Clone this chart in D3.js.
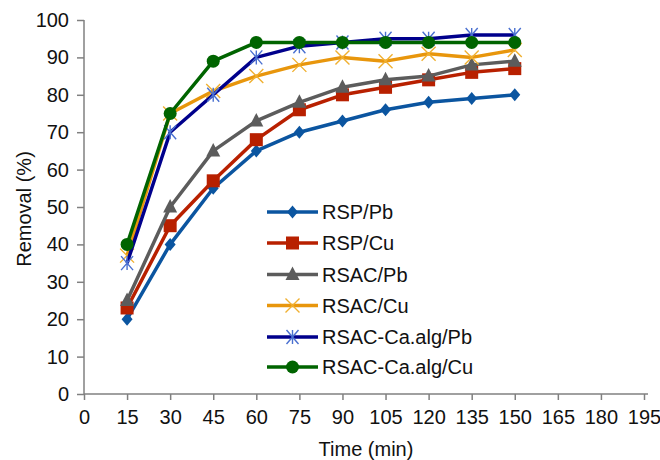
<!DOCTYPE html>
<html><head><meta charset="utf-8">
<script src="https://cdn.jsdelivr.net/npm/d3@7"></script>
<style>body{margin:0;background:#fff}svg{display:block}text{font-family:"Liberation Sans",Arial,sans-serif;fill:#111}</style>
</head><body><svg id="c" width="660" height="460"></svg>
<script>
const times = [15,30,45,60,75,90,105,120,135,150];
const xTicks = [0,15,30,45,60,75,90,105,120,135,150,165,180,195];
const yTicks = [0,10,20,30,40,50,60,70,80,90,100];
const seriesNames = ["RSP/Pb","RSP/Cu","RSAC/Pb","RSAC/Cu","RSAC-Ca.alg/Pb","RSAC-Ca.alg/Cu"];
const rspPb = [20,40,55,65,70,73,76,78,79,80];
const rspCu = [23,45,57,68,76,80,82,84,86,87];
const rsacPb = [25,50,65,73,78,82,84,85,88,89];
const rsacCu = [37,75,81,85,88,90,89,91,90,92];
const rsacCaPb = [35,70,80,90,93,94,95,95,96,96];
const rsacCaCu = [40,75,89,94,94,94,94,94,94,94];
const seriesValues = [rspPb,rspCu,rsacPb,rsacCu,rsacCaPb,rsacCaCu];
const lineColors = ["#0b55a0","#b82000","#5c5c5c","#e8960c","#00008c","#006400"];
const markerColors = ["#0b55a0","#b82000","#5c5c5c","#f0b030","#4a70d0","#006400"];
const markerTypes = ["diamond","square","triangle","x","asterisk","circle"];

const svg = d3.select("#c");
const m = {l:84, r:644, t:20, b:394};
const x = d3.scaleLinear().domain([0,195]).range([m.l,m.r]);
const y = d3.scaleLinear().domain([0,100]).range([m.b,m.t]);

const xa = svg.append("g").attr("transform",`translate(0,${m.b})`)
  .call(d3.axisBottom(x).tickValues(xTicks).tickSize(6).tickPadding(10).tickSizeOuter(0));
const ya = svg.append("g").attr("transform",`translate(${m.l},0)`)
  .call(d3.axisLeft(y).tickValues(yTicks).tickSize(7).tickPadding(8).tickSizeOuter(0));
[xa,ya].forEach(a=>{
  a.selectAll("path,line").attr("stroke","#808080").attr("stroke-width",1.5);
  a.selectAll("text").attr("font-size",20).attr("fill","#111").style("font-family","Liberation Sans, Arial, sans-serif");
});
xa.select(".domain").attr("d",`M${m.l},0H${m.r+4}`);
ya.select(".domain").attr("d",`M0,${m.b}V${m.t}`);

svg.append("text").attr("x",366).attr("y",456).attr("text-anchor","middle").attr("font-size",20).text("Time (min)");
svg.append("text").attr("transform","translate(31,209) rotate(-90)").attr("text-anchor","middle").attr("font-size",20).text("Removal (%)");

function marker(g, type, cx, cy, col){
  if(type==="diamond"){
    g.append("path").attr("d",`M${cx},${cy-6.5}L${cx+5.5},${cy}L${cx},${cy+6.5}L${cx-5.5},${cy}Z`).attr("fill",col);
  } else if(type==="square"){
    g.append("rect").attr("x",cx-6.5).attr("y",cy-6.5).attr("width",13).attr("height",13).attr("fill",col);
  } else if(type==="triangle"){
    g.append("path").attr("d",`M${cx},${cy-8}L${cx+7},${cy+5.5}L${cx-7},${cy+5.5}Z`).attr("fill",col);
  } else if(type==="x"){
    g.append("path").attr("d",`M${cx-7},${cy-7}L${cx+7},${cy+7}M${cx+7},${cy-7}L${cx-7},${cy+7}`).attr("stroke",col).attr("stroke-width",1.4);
  } else if(type==="asterisk"){
    g.append("path").attr("d",`M${cx-6},${cy-7}L${cx+6},${cy+7}M${cx+6},${cy-7}L${cx-6},${cy+7}M${cx},${cy-7}L${cx},${cy+7}`).attr("stroke",col).attr("stroke-width",1.4);
  } else if(type==="circle"){
    g.append("circle").attr("cx",cx).attr("cy",cy).attr("r",6.5).attr("fill",col);
  }
}

const line = d3.line().x((d,i)=>x(times[i])).y(d=>y(d));
seriesValues.forEach((vals,k)=>{
  const g = svg.append("g");
  g.append("path").datum(vals).attr("d",line).attr("fill","none")
    .attr("stroke",lineColors[k]).attr("stroke-width",3.5).attr("stroke-linejoin","round");
  vals.forEach((v,i)=>marker(g, markerTypes[k], x(times[i]), y(v), markerColors[k]));
});

// legend
const legY = [212,243,274.5,305.5,337,367];
seriesNames.forEach((n,k)=>{
  const g = svg.append("g");
  g.append("line").attr("x1",267).attr("x2",318).attr("y1",legY[k]).attr("y2",legY[k])
    .attr("stroke",lineColors[k]).attr("stroke-width",3.5);
  marker(g, markerTypes[k], 292.5, legY[k], markerColors[k]);
  g.append("text").attr("x",322).attr("y",legY[k]).attr("dy","0.35em").attr("font-size",20).text(n);
});
</script></body></html>
